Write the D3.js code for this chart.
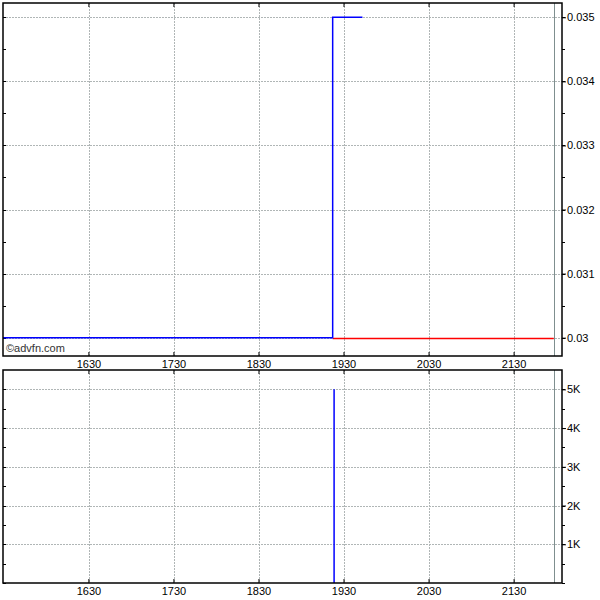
<!DOCTYPE html>
<html>
<head>
<meta charset="utf-8">
<script src="https://cdn.jsdelivr.net/npm/d3@7"></script>
<style>
  body { margin: 0; background: #fff; }
  svg { display: block; font-family: "Liberation Sans", Arial, sans-serif; }
</style>
</head>
<body>
<svg id="chart"></svg>
<script>
// price series (time as HH:MM, step after)
const priceTimes = ['15:29', '19:22', '19:43'];
const priceValues = [0.03, 0.035, 0.035];

// previous close reference line
const refTimes = ['19:22', '21:58'];
const refValue = 0.03;

// volume bars
const volTimes = ['19:23'];
const volValues = [5000];

// axis ticks
const xTickLabels = ['1630', '1730', '1830', '1930', '2030', '2130'];
const priceTicks = [0.03, 0.031, 0.032, 0.033, 0.034, 0.035];
const volTicks = [1000, 2000, 3000, 4000, 5000];
const volTickLabels = ['1K', '2K', '3K', '4K', '5K'];
const marketCloseTime = '21:58';

const width = 600, height = 600;
const left = 3, right = 562;
const top1 = 3, bottom1 = 356;
const top2 = 370, bottom2 = 583;

const toMin = s => {
  const h = +s.slice(0, s.length - (s.includes(':') ? 3 : 2));
  const m = +s.slice(-2);
  return h * 60 + m;
};

const svg = d3.select('#chart').attr('width', width).attr('height', height);

const x = d3.scaleLinear().domain([929.4, 1323.8]).range([left, right]);
const yP = d3.scaleLinear().domain([0.029714, 0.035223]).range([bottom1, top1]);
const yV = d3.scaleLinear().domain([0, 5500]).range([bottom2, top2]);

const gridColor = '#b0b6b6';

function panel(y, top, bottom, ticks, minorStep, fmt) {
  const g = svg.append('g');
  // vertical gridlines
  g.selectAll('.vg').data(xTickLabels).enter().append('line')
    .attr('x1', d => Math.round(x(toMin(d))) + 0.5).attr('x2', d => Math.round(x(toMin(d))) + 0.5)
    .attr('y1', top).attr('y2', bottom)
    .attr('stroke', gridColor).attr('stroke-width', 1).attr('stroke-dasharray', '2,1');
  // horizontal gridlines
  g.selectAll('.hg').data(ticks).enter().append('line')
    .attr('x1', left).attr('x2', right)
    .attr('y1', d => Math.round(y(d)) + 0.5).attr('y2', d => Math.round(y(d)) + 0.5)
    .attr('stroke', gridColor).attr('stroke-width', 1).attr('stroke-dasharray', '2,1');
  // market close line
  g.append('line')
    .attr('x1', Math.round(x(toMin(marketCloseTime))) + 0.5).attr('x2', Math.round(x(toMin(marketCloseTime))) + 0.5)
    .attr('y1', top).attr('y2', bottom)
    .attr('stroke', '#7f8f8f').attr('stroke-width', 1);

  // minor ticks left and right
  const [d0, d1] = y.domain();
  const minors = d3.range(Math.ceil(d0 / minorStep) * minorStep, d1, minorStep);
  g.selectAll('.ml').data(minors).enter().append('line')
    .attr('x1', left).attr('x2', left + 3)
    .attr('y1', d => Math.round(y(d)) + 0.5).attr('y2', d => Math.round(y(d)) + 0.5)
    .attr('stroke', '#000');
  g.selectAll('.mr').data(minors).enter().append('line')
    .attr('x1', right).attr('x2', right + 3)
    .attr('y1', d => Math.round(y(d)) + 0.5).attr('y2', d => Math.round(y(d)) + 0.5)
    .attr('stroke', '#000');

  // x ticks top and bottom (inward)
  g.selectAll('.xt').data(xTickLabels).enter().append('line')
    .attr('x1', d => x(toMin(d))).attr('x2', d => x(toMin(d)))
    .attr('y1', top).attr('y2', top + 4).attr('stroke', '#000');
  g.selectAll('.xb').data(xTickLabels).enter().append('line')
    .attr('x1', d => x(toMin(d))).attr('x2', d => x(toMin(d)))
    .attr('y1', bottom).attr('y2', bottom - 4).attr('stroke', '#000');

  // right axis labels
  const ax = d3.axisRight(y).tickValues(ticks).tickSize(4).tickPadding(1).tickFormat(fmt);
  const axG = g.append('g').attr('transform', `translate(${right},0)`).call(ax);
  axG.select('.domain').remove();
  axG.selectAll('text').attr('font-size', 11).attr('fill', '#000')
    .attr('font-family', '"Liberation Sans", Arial, sans-serif');

  // x labels below
  g.selectAll('.xl').data(xTickLabels).enter().append('text')
    .attr('x', d => x(toMin(d))).attr('y', bottom + 12)
    .attr('text-anchor', 'middle').attr('font-size', 11).attr('fill', '#000')
    .text(d => d);

  return g;
}

const g1 = panel(yP, top1, bottom1, priceTicks, 0.0005, d => d3.format('.3~f')(d).replace(/0+$/, ''));
const volFmt = d => volTickLabels[volTicks.indexOf(d)];
const g2 = panel(yV, top2, bottom2, volTicks, 500, volFmt);

const clip1 = svg.append('clipPath').attr('id', 'c1').append('rect')
  .attr('x', left).attr('y', top1).attr('width', right - left).attr('height', bottom1 - top1);

// price reference line (red)
g1.append('line')
  .attr('x1', x(toMin(refTimes[0]))).attr('x2', x(toMin(refTimes[1])))
  .attr('y1', Math.round(yP(refValue)) + 0.5).attr('y2', Math.round(yP(refValue)) + 0.5)
  .attr('stroke', '#ff0000').attr('stroke-width', 1.5);

// price line
const pts = priceTimes.map((t, i) => [x(toMin(t)), yP(priceValues[i])]);
pts[0][0] = left;
const line = d3.line().curve(d3.curveStepAfter);
g1.append('path')
  .attr('d', line(pts))
  .attr('clip-path', 'url(#c1)')
  .attr('fill', 'none').attr('stroke', '#0000ff').attr('stroke-width', 1.5);

// volume bars
g2.selectAll('.vb').data(volValues).enter().append('line')
  .attr('x1', (d, i) => x(toMin(volTimes[i]))).attr('x2', (d, i) => x(toMin(volTimes[i])))
  .attr('y1', yV(0)).attr('y2', d => yV(d))
  .attr('stroke', '#0000ff').attr('stroke-width', 1.5);

// watermark
g1.append('text').attr('x', 6).attr('y', bottom1 - 4)
  .attr('font-size', 11).attr('fill', '#333').text('©advfn.com');

// panel borders
[[top1, bottom1], [top2, bottom2]].forEach(([t, b]) => {
  svg.append('rect').attr('x', left).attr('y', t)
    .attr('width', right - left).attr('height', b - t)
    .attr('fill', 'none').attr('stroke', '#000').attr('stroke-width', 1.5);
});
</script>
</body>
</html>
